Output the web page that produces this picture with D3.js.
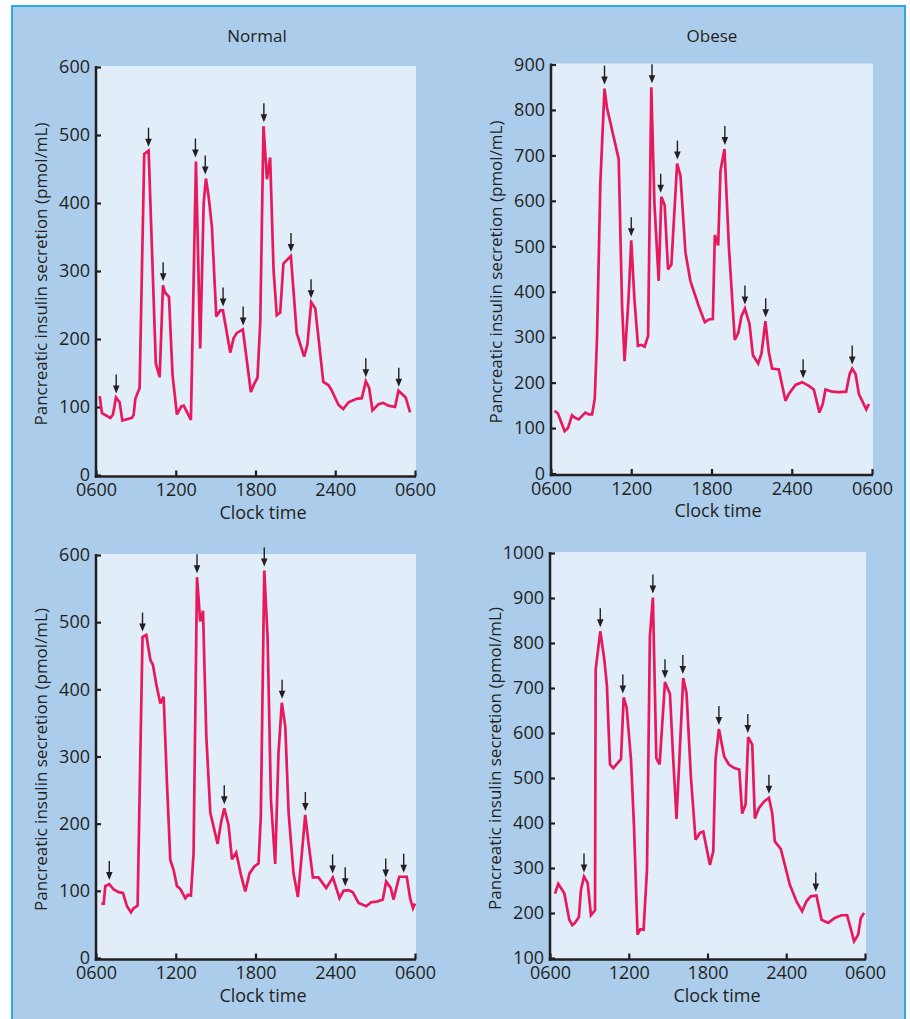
<!DOCTYPE html>
<html>
<head>
<meta charset="utf-8">
<script src="https://cdn.jsdelivr.net/npm/d3@7"></script>
<style>
  html, body { margin: 0; padding: 0; background: #fff; }
  svg { display: block; }
  text { font-family: "Open Sans", "Noto Sans", sans-serif; fill: #231f20; }
</style>
</head>
<body>
<div id="chart"></div>
<script>
// hours after 0600, secretion rate (pmol/mL)
const normalDay1 = [[0.28,116],[0.45,91],[1.08,84],[1.28,89],[1.5,114],[1.78,107],[1.98,80],[2.7,84],[2.83,88],[2.96,112],[3.28,128],[3.63,472],[3.96,477],[4.5,164],[4.79,144],[5.04,279],[5.2,268],[5.49,262],[5.76,147],[6.09,89],[6.42,101],[6.6,102],[7.14,81],[7.52,461],[7.84,186],[8.1,400],[8.27,436],[8.47,410],[8.72,365],[9.05,233],[9.35,242],[9.55,242],[10.1,180],[10.35,201],[10.6,209],[11.05,214],[11.65,122],[11.9,134],[12.15,143],[12.36,226],[12.6,513],[12.86,435],[13.1,467],[13.36,301],[13.6,235],[13.86,239],[14.1,311],[14.66,322],[15.1,209],[15.66,174],[15.9,191],[16.19,254],[16.5,245],[17.1,137],[17.5,132],[17.74,124],[18.25,103],[18.6,97],[19.0,107],[19.6,112],[20.0,113],[20.3,138],[20.55,128],[20.8,95],[21.25,104],[21.6,106],[22.0,102],[22.5,100],[22.76,124],[23.3,114],[23.63,92]];
const normalMeals1 = [[1.52,114],[3.95,477],[5.05,279],[7.48,461],[8.22,436],[9.56,242],[11.07,214],[12.63,513],[14.67,322],[16.18,254],[20.3,138],[22.78,124]];

const obeseDay1 = [[0.27,138],[0.52,132],[1.02,93],[1.27,100],[1.57,128],[1.77,123],[2.07,119],[2.57,134],[2.82,130],[3.07,130],[3.27,164],[3.44,298],[3.69,640],[4.0,847],[4.19,804],[5.06,692],[5.31,372],[5.5,247],[5.8,387],[6.0,513],[6.23,387],[6.5,281],[6.76,283],[7.0,279],[7.26,303],[7.5,850],[7.73,595],[8.05,424],[8.25,609],[8.5,590],[8.75,449],[9.0,460],[9.43,682],[9.68,655],[10.05,487],[10.42,424],[11.05,368],[11.5,333],[11.8,339],[12.1,340],[12.25,525],[12.5,502],[12.67,666],[12.97,714],[13.3,499],[13.74,294],[14.0,309],[14.24,346],[14.5,363],[14.84,329],[15.1,260],[15.49,242],[15.74,264],[16.03,335],[16.28,268],[16.53,231],[17.03,229],[17.53,160],[17.78,175],[18.28,195],[18.78,201],[19.28,193],[19.65,185],[20.07,134],[20.32,153],[20.52,185],[21.02,180],[21.52,179],[22.07,180],[22.32,218],[22.52,231],[22.77,219],[23.02,175],[23.57,141],[23.77,153]];
const obeseMeals1 = [[4.0,847],[6.0,513],[7.55,850],[8.2,609],[9.45,682],[13.0,714],[14.5,363],[16.05,335],[18.85,201],[22.52,231]];

const normalDay2 = [[0.4,81],[0.58,81],[0.7,107],[1.0,110],[1.33,102],[1.7,98],[2.03,97],[2.33,77],[2.63,68],[2.83,74],[3.13,78],[3.33,295],[3.5,478],[3.78,481],[4.09,444],[4.29,436],[4.54,407],[4.84,379],[5.09,389],[5.34,260],[5.59,146],[5.84,131],[6.09,107],[6.34,103],[6.72,89],[6.92,94],[7.14,93],[7.34,156],[7.6,567],[7.84,501],[8.05,517],[8.3,330],[8.6,216],[8.9,191],[9.15,170],[9.42,203],[9.65,223],[9.97,198],[10.23,147],[10.55,157],[10.9,124],[11.23,99],[11.55,126],[11.9,136],[12.23,141],[12.4,211],[12.66,577],[12.91,478],[13.16,236],[13.48,140],[13.73,305],[13.98,380],[14.24,345],[14.49,216],[14.86,126],[15.19,91],[15.49,156],[15.74,213],[15.99,171],[16.32,120],[16.74,120],[17.32,104],[17.82,120],[18.32,89],[18.62,100],[19.0,101],[19.32,98],[19.75,82],[20.33,77],[20.7,83],[21.13,84],[21.58,87],[21.83,114],[22.18,104],[22.38,87],[22.81,121],[23.38,121],[23.63,89],[23.85,74],[24.0,81]];
const normalMeals2 = [[1.0,110],[3.5,480],[7.6,567],[9.65,223],[12.66,577],[14.0,380],[15.75,213],[17.8,120],[18.75,101],[21.8,114],[23.15,121]];

const obeseDay2 = [[0.38,243],[0.63,265],[1.09,244],[1.47,185],[1.7,173],[1.9,178],[2.2,191],[2.36,252],[2.59,281],[2.87,267],[3.12,195],[3.43,206],[3.48,741],[3.83,826],[4.14,763],[4.34,704],[4.57,530],[4.82,522],[5.41,542],[5.61,679],[5.84,656],[6.17,541],[6.4,393],[6.67,152],[6.88,164],[7.13,163],[7.39,296],[7.61,815],[7.84,901],[8.1,544],[8.35,530],[8.76,713],[9.14,687],[9.39,541],[9.64,409],[10.15,722],[10.4,689],[10.74,500],[11.09,363],[11.42,378],[11.68,381],[12.18,307],[12.44,337],[12.61,541],[12.87,609],[13.27,548],[13.63,530],[14.04,522],[14.42,519],[14.64,421],[14.9,441],[15.1,591],[15.41,574],[15.61,410],[15.91,433],[16.32,448],[16.68,456],[16.93,422],[17.13,359],[17.59,342],[18.27,263],[18.78,226],[19.21,204],[19.54,226],[19.87,237],[20.3,239],[20.69,185],[21.19,178],[21.7,189],[22.21,195],[22.64,195],[23.17,137],[23.48,152],[23.68,189],[23.93,200]];
const obeseMeals2 = [[2.59,281],[3.83,826],[5.55,679],[7.84,901],[8.76,713],[10.12,722],[12.87,609],[15.07,591],[16.68,456],[20.25,239]];

const hourTicks = [0, 6, 12, 18, 24];
const hourLabels = ['0600', '1200', '1800', '2400', '0600'];
const yLabel = 'Pancreatic insulin secretion (pmol/mL)';
const xLabel = 'Clock time';

const W = 910, H = 1019;
const INK = '#231f20', LINE = '#e8185c';

const panels = [
  { title: 'Normal', data: normalDay1, meals: normalMeals1, yDom: [0, 600],  ticks: d3.range(0, 601, 100),  x0: 96,  x1: 415, yT: 67,   yB: 475 },
  { title: 'Obese',  data: obeseDay1,  meals: obeseMeals1,  yDom: [0, 900],  ticks: d3.range(0, 901, 100),  x0: 551, x1: 872, yT: 64.5, yB: 473.5 },
  { title: null,     data: normalDay2, meals: normalMeals2, yDom: [0, 600],  ticks: d3.range(0, 601, 100),  x0: 96,  x1: 415, yT: 555,  yB: 958 },
  { title: null,     data: obeseDay2,  meals: obeseMeals2,  yDom: [100, 1000], ticks: d3.range(100, 1001, 100), x0: 550, x1: 865, yT: 553,  yB: 958 },
];

const svg = d3.select('#chart').append('svg').attr('width', W).attr('height', H);

// outer frame
svg.append('rect').attr('x', 12).attr('y', 6).attr('width', 893).attr('height', H + 10)
  .attr('fill', '#abcdeb').attr('stroke', '#29abe2').attr('stroke-width', 2);

function drawPanel(p) {
  const x = d3.scaleLinear().domain([0, 24]).range([p.x0, p.x1]);
  const y = d3.scaleLinear().domain(p.yDom).range([p.yB, p.yT]);
  const axisY = p.yB + 1.5;
  const g = svg.append('g');

  g.append('rect')
    .attr('x', p.x0).attr('y', p.yT - 1)
    .attr('width', p.x1 - p.x0 + 1).attr('height', axisY - p.yT + 1)
    .attr('fill', '#e1edf9');

  // y axis, ticks pointing inward
  const ya = g.append('g').attr('transform', `translate(${p.x0},0)`)
    .call(d3.axisLeft(y).tickValues(p.ticks).tickFormat(d3.format('d'))
      .tickSizeInner(-5).tickSizeOuter(0).tickPadding(6));
  ya.select('.domain').remove();
  ya.selectAll('.tick line').attr('stroke', INK).attr('stroke-width', 2.2);
  ya.selectAll('.tick text').attr('font-size', 18).attr('fill', INK)
    .style('font-family', '"Open Sans", sans-serif');

  // x axis, ticks pointing up
  const xa = g.append('g').attr('transform', `translate(0,${axisY})`)
    .call(d3.axisBottom(x).tickValues(hourTicks).tickFormat((d, i) => hourLabels[i])
      .tickSizeInner(-6).tickSizeOuter(0).tickPadding(7));
  xa.select('.domain').remove();
  xa.selectAll('.tick line').attr('stroke', INK).attr('stroke-width', 2.2);
  xa.selectAll('.tick text').attr('font-size', 18).attr('fill', INK)
    .style('font-family', '"Open Sans", sans-serif');

  g.append('line').attr('x1', p.x0).attr('x2', p.x0).attr('y1', p.yT - 1).attr('y2', axisY + 1.25)
    .attr('stroke', INK).attr('stroke-width', 2.5);
  g.append('line').attr('x1', p.x0 - 1.25).attr('x2', p.x1 + 1).attr('y1', axisY).attr('y2', axisY)
    .attr('stroke', INK).attr('stroke-width', 2.5);

  const line = d3.line().x(d => x(d[0])).y(d => y(d[1]));
  g.append('path').datum(p.data).attr('d', line)
    .attr('fill', 'none').attr('stroke', LINE).attr('stroke-width', 2.7)
    .attr('stroke-linejoin', 'miter').attr('stroke-miterlimit', 3);

  // meal arrows
  p.meals.forEach(([h, v]) => {
    const ax = x(h), tip = y(v) - 4;
    g.append('line').attr('x1', ax).attr('x2', ax).attr('y1', tip - 19).attr('y2', tip - 6)
      .attr('stroke', INK).attr('stroke-width', 1.4);
    g.append('path').attr('d', `M${ax - 3.3},${tip - 8}L${ax + 3.3},${tip - 8}L${ax},${tip}Z`)
      .attr('fill', INK);
  });

  if (p.title) {
    svg.append('text').attr('x', p.x0 + 161).attr('y', 36.5).attr('dy', '0.35em')
      .attr('text-anchor', 'middle').attr('font-size', 17).text(p.title);
  }
  svg.append('text').attr('x', p.x0 + 167).attr('y', axisY + 36).attr('dy', '0.35em')
    .attr('text-anchor', 'middle').attr('font-size', 18).text(xLabel);
  svg.append('text')
    .attr('transform', `translate(${p.x0 - 55},${(p.yT + p.yB) / 2 + 3}) rotate(-90)`)
    .attr('dy', '0.35em').attr('text-anchor', 'middle').attr('font-size', 17).text(yLabel);
}

panels.forEach(drawPanel);
</script>
</body>
</html>
